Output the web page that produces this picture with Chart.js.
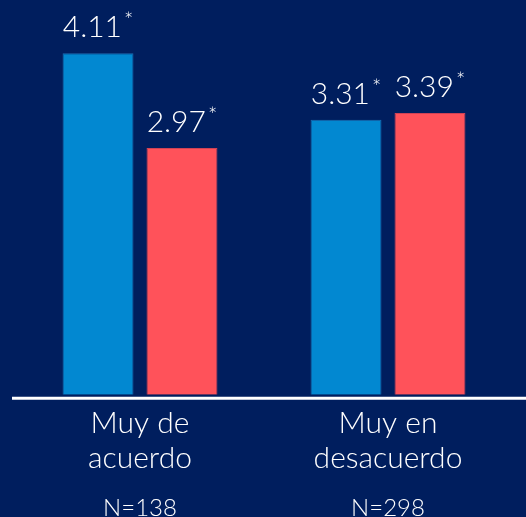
<!DOCTYPE html>
<html>
<head>
<meta charset="utf-8">
<script src="https://cdn.jsdelivr.net/npm/chart.js@4/dist/chart.umd.min.js"></script>
<style>
  html, body { margin: 0; padding: 0; background: #001e5e; }
  #wrap { width: 526px; height: 517px; position: relative; }
</style>
</head>
<body>
<div id="wrap"><canvas id="c"></canvas></div>
<script>
const categories = [["Muy de", "acuerdo"], ["Muy en", "desacuerdo"]];
const sampleSizes = ["N=138", "N=298"];
const seriesA = [4.11, 3.31];
const seriesB = [2.97, 3.39];
const valueLabelsA = ["4.11", "3.31"];
const valueLabelsB = ["2.97", "3.39"];
const markers = ["*", "*"];

const FONT = "Lato, 'Open Sans', sans-serif";

const overlay = {
  id: 'overlay',
  afterDatasetsDraw(chart) {
    const ctx = chart.ctx;
    const area = chart.chartArea;
    ctx.save();
    // baseline axis line
    ctx.strokeStyle = '#ffffff';
    ctx.lineWidth = 3;
    ctx.beginPath();
    ctx.moveTo(12, area.bottom + 3.5);
    ctx.lineTo(chart.width, area.bottom + 3.5);
    ctx.stroke();
    // value labels
    const labelSets = [valueLabelsA, valueLabelsB];
    chart.data.datasets.forEach((ds, di) => {
      const meta = chart.getDatasetMeta(di);
      meta.data.forEach((bar, i) => {
        const main = labelSets[di][i];
        const sup = markers[i];
        ctx.font = "300 30px " + FONT;
        const w1 = ctx.measureText(main).width;
        ctx.font = "300 22px " + FONT;
        const w2 = ctx.measureText(sup).width;
        const total = w1 + 2 + w2;
        const x0 = bar.x - total / 2;
        const yb = bar.y - 16;
        ctx.fillStyle = '#ffffff';
        ctx.textAlign = 'left';
        ctx.textBaseline = 'alphabetic';
        ctx.font = "300 30px " + FONT;
        ctx.fillText(main, x0, yb);
        ctx.font = "300 22px " + FONT;
        ctx.fillText(sup, x0 + w1 + 2, yb - 9);
      });
    });
    // sample sizes
    const xs = chart.scales.x;
    ctx.font = "300 24px " + FONT;
    ctx.textAlign = 'center';
    ctx.fillStyle = '#ffffff';
    sampleSizes.forEach((s, i) => {
      ctx.fillText(s, xs.getPixelForValue(i), 516);
    });
    ctx.restore();
  }
};

new Chart(document.getElementById('c'), {
  type: 'bar',
  data: {
    labels: categories,
    datasets: [
      { data: seriesA, backgroundColor: '#0288d1', borderColor: '#1b6bb0', borderWidth: 1 },
      { data: seriesB, backgroundColor: '#ff525a', borderColor: '#cf4255', borderWidth: 1 }
    ]
  },
  options: {
    responsive: true,
    maintainAspectRatio: false,
    animation: false,
    categoryPercentage: 0.677,
    barPercentage: 0.845,
    layout: { padding: { top: 10, left: 16, right: 14, bottom: 38 } },
    plugins: { legend: { display: false }, tooltip: { enabled: false } },
    scales: {
      y: { display: false, min: 0, max: 4.63 },
      x: {
        grid: { display: false },
        border: { display: false },
        ticks: {
          color: '#ffffff',
          padding: 3,
          font: { family: FONT, size: 30, weight: 300, lineHeight: 1.17 }
        }
      }
    }
  },
  plugins: [overlay]
});
</script>
</body>
</html>
